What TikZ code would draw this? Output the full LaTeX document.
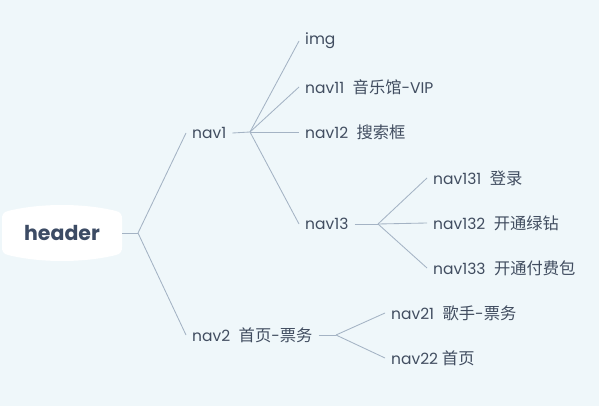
\documentclass[tikz,border=0pt]{standalone}
\usepackage{fontspec}
\setmainfont{Poppins}
\newfontfamily\cjk[Scale=1.05]{Noto Sans CJK SC}
\usepackage{xcolor}
\usetikzlibrary{calc}

\definecolor{paper}{HTML}{EFF7FA}
\definecolor{branch}{HTML}{A4B3C4}
\definecolor{ink}{HTML}{414D60}
\definecolor{rootink}{HTML}{3C4B64}

\newcommand{\zh}[1]{{\cjk #1}}

\tikzset{
	topic/.style={anchor=west, inner xsep=6pt, inner ysep=2pt, text=ink,
		font=\fontsize{15.5}{18}\selectfont},
	link/.style={draw=branch, line width=0.85pt}
}

\begin{document}
\begin{tikzpicture}[x=1pt, y=-1pt]
		%canvas
		\fill[paper] (0,0) rectangle (599,406);
		\useasboundingbox (0,0) rectangle (599,406);
		
		%branch points
		\coordinate (b0) at (138,233);
		\coordinate (b1) at (250,132);
		\coordinate (b13) at (378,224);
		\coordinate (b2) at (336,335);
		
		%root blob
		\fill[white] (8,211) .. controls (40,203) and (84,203) .. (116,211)
			.. controls (121,212) and (122,215) .. (122,219) -- (122,247)
			.. controls (122,251) and (121,254) .. (116,255)
			.. controls (84,263) and (40,263) .. (8,255)
			.. controls (3,254) and (2,251) .. (2,247) -- (2,219)
			.. controls (2,215) and (3,212) .. (8,211) -- cycle;
		\node [minimum width=120pt, inner sep=0pt, text=rootink,
			font=\fontsize{20.5}{24}\selectfont\bfseries] (header) at (62,233) {header};
		
		%first level
		\node [topic] (nav1) at (186,133) {nav1};
		\node [topic] (nav2) at (186,335) {nav2\hspace{0.55em}\zh{首页}-\zh{票务}};
		
		%under nav1
		\node [topic] (img) at (299,41) {img};
		\node [topic] (nav11) at (299,87) {nav11\hspace{0.55em}\zh{音乐馆}-VIP};
		\node [topic] (nav12) at (299,132) {nav12\hspace{0.55em}\zh{搜索框}};
		\node [topic] (nav13) at (299,224) {nav13};
		
		%under nav13
		\node [topic] (nav131) at (427,178) {nav131\hspace{0.55em}\zh{登录}};
		\node [topic] (nav132) at (427,223) {nav132\hspace{0.55em}\zh{开通绿钻}};
		\node [topic] (nav133) at (427,268) {nav133\hspace{0.55em}\zh{开通付费包}};
		
		%under nav2
		\node [topic] (nav21) at (385,313) {nav21\hspace{0.55em}\zh{歌手}-\zh{票务}};
		\node [topic] (nav22) at (385,358) {nav22\hspace{0.25em}\zh{首页}};
		
		%connectors
		\draw [link] (header.east) -- (b0);
		\draw [link] (b0) -- (nav1.west);
		\draw [link] (b0) -- (nav2.west);
		
		\draw [link] (nav1.east) -- (b1);
		\foreach \n in {img, nav11, nav12, nav13}
			\draw [link] (b1) -- (\n.west);
		
		\draw [link] (nav13.east) -- (b13);
		\foreach \n in {nav131, nav132, nav133}
			\draw [link] (b13) -- (\n.west);
		
		\draw [link] (nav2.east) -- (b2);
		\foreach \n in {nav21, nav22}
			\draw [link] (b2) -- (\n.west);
	\end{tikzpicture}
\end{document}
